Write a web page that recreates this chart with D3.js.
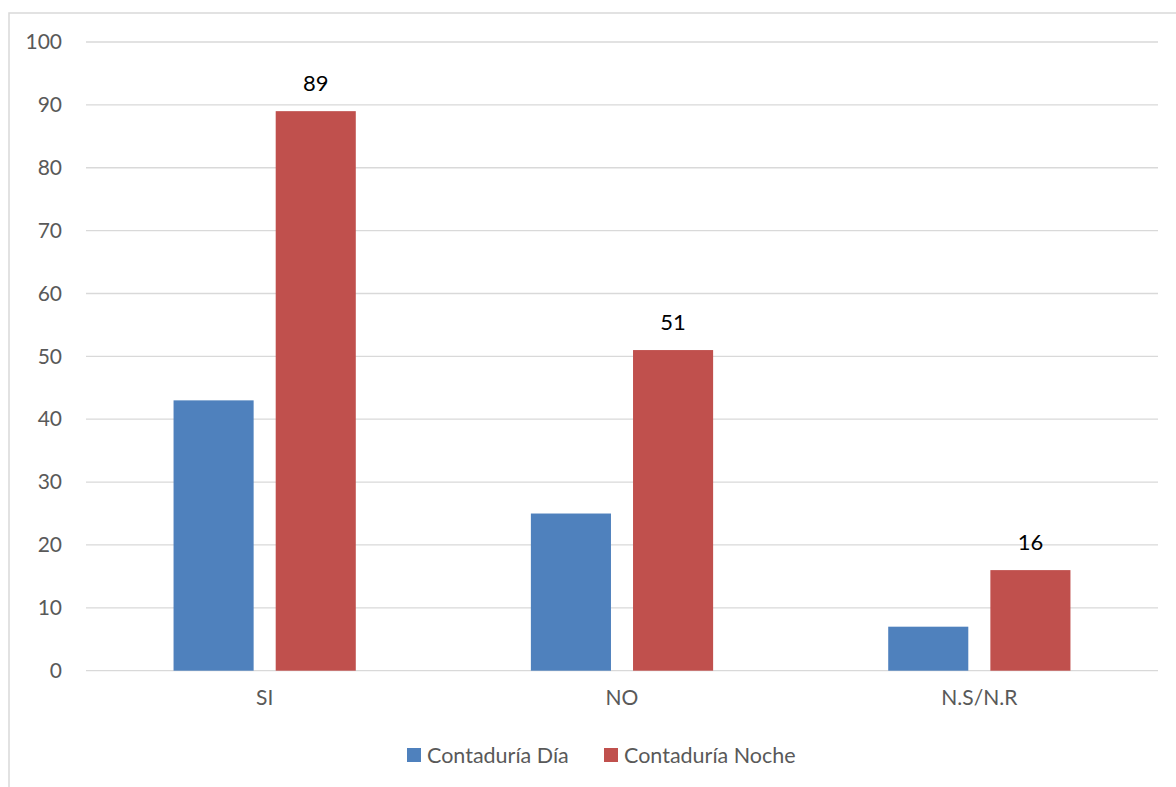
<!DOCTYPE html>
<html>
<head>
<meta charset="utf-8">
<script src="https://cdn.jsdelivr.net/npm/d3@7/dist/d3.min.js"></script>
<style>
  html, body { margin: 0; padding: 0; background: #fff; }
  svg { display: block; font-family: Lato, "Open Sans", sans-serif; }
</style>
</head>
<body>
<svg id="chart" width="1176" height="787"></svg>
<script>
const categories = ["SI", "NO", "N.S/N.R"];
const seriesNames = ["Contaduría Día", "Contaduría Noche"];
const diaValues = [43, 25, 7];
const nocheValues = [89, 51, 16];
const yTicks = [0, 10, 20, 30, 40, 50, 60, 70, 80, 90, 100];
const colors = ["#4F81BD", "#C0504D"];

const seriesValues = [diaValues, nocheValues];
const rows = categories.map((c, i) => ({
  cat: c,
  vals: seriesNames.map((s, j) => ({ series: j, value: seriesValues[j][i] }))
}));

const svg = d3.select("#chart");
const W = 1176, H = 787;
const plot = { left: 86, right: 1158, top: 42, bottom: 670.7 };
const font = "Lato, 'Open Sans', sans-serif";

// Outer chart frame (runs past the right and bottom edges)
svg.append("rect")
  .attr("x", 9).attr("y", 13)
  .attr("width", W + 10).attr("height", H + 10)
  .attr("fill", "#fff").attr("stroke", "#D9D9D9").attr("stroke-width", 1.5);

const y = d3.scaleLinear().domain([0, 100]).range([plot.bottom, plot.top]);
const x0 = d3.scaleBand().domain(categories).range([plot.left, plot.right])
  .paddingInner(0.49).paddingOuter(0.245);
const x1 = d3.scaleBand().domain([0, 1]).range([0, x0.bandwidth()])
  .paddingInner(0.216).paddingOuter(0);

// Gridlines
svg.append("g")
  .selectAll("line")
  .data(yTicks)
  .join("line")
  .attr("x1", plot.left).attr("x2", plot.right)
  .attr("y1", d => y(d)).attr("y2", d => y(d))
  .attr("stroke", "#D9D9D9").attr("stroke-width", 1.3);

// Y axis labels
const yAxis = d3.axisLeft(y).tickValues(yTicks).tickSize(0).tickPadding(0);
const yg = svg.append("g").attr("transform", `translate(62,0)`).call(yAxis);
yg.select(".domain").remove();
yg.selectAll("text").attr("fill", "#595959").style("font-size", "21px")
  .style("font-family", font);

// X axis labels
const xAxis = d3.axisBottom(x0).tickSize(0).tickPadding(0);
const xg = svg.append("g").attr("transform", `translate(0,690)`).call(xAxis);
xg.select(".domain").remove();
xg.selectAll("text").attr("fill", "#595959").style("font-size", "21px")
  .style("font-family", font);

// Bars
const groups = svg.append("g").selectAll("g")
  .data(rows)
  .join("g")
  .attr("transform", d => `translate(${x0(d.cat)},0)`);

groups.selectAll("rect")
  .data(d => d.vals)
  .join("rect")
  .attr("x", d => x1(d.series))
  .attr("width", x1.bandwidth())
  .attr("y", d => y(d.value))
  .attr("height", d => y(0) - y(d.value))
  .attr("fill", d => colors[d.series]);

// Value labels on the night series
groups.selectAll("text.val")
  .data(d => d.vals.filter(v => v.series === 1))
  .join("text")
  .attr("class", "val")
  .attr("x", d => x1(d.series) + x1.bandwidth() / 2)
  .attr("y", d => y(d.value) - 20)
  .attr("text-anchor", "middle")
  .attr("fill", "#000")
  .style("font-size", "22px")
  .text(d => d.value);

// Legend
const legend = svg.append("g").attr("transform", "translate(407,748)");
const legendItems = [{ name: seriesNames[0], x: 0 }, { name: seriesNames[1], x: 197 }];
legendItems.forEach((it, i) => {
  legend.append("rect").attr("x", it.x).attr("y", 0).attr("width", 14).attr("height", 14)
    .attr("fill", colors[i]);
  legend.append("text").attr("x", it.x + 20).attr("y", 15)
    .attr("fill", "#595959").style("font-size", "21.5px").text(it.name);
});
</script>
</body>
</html>
